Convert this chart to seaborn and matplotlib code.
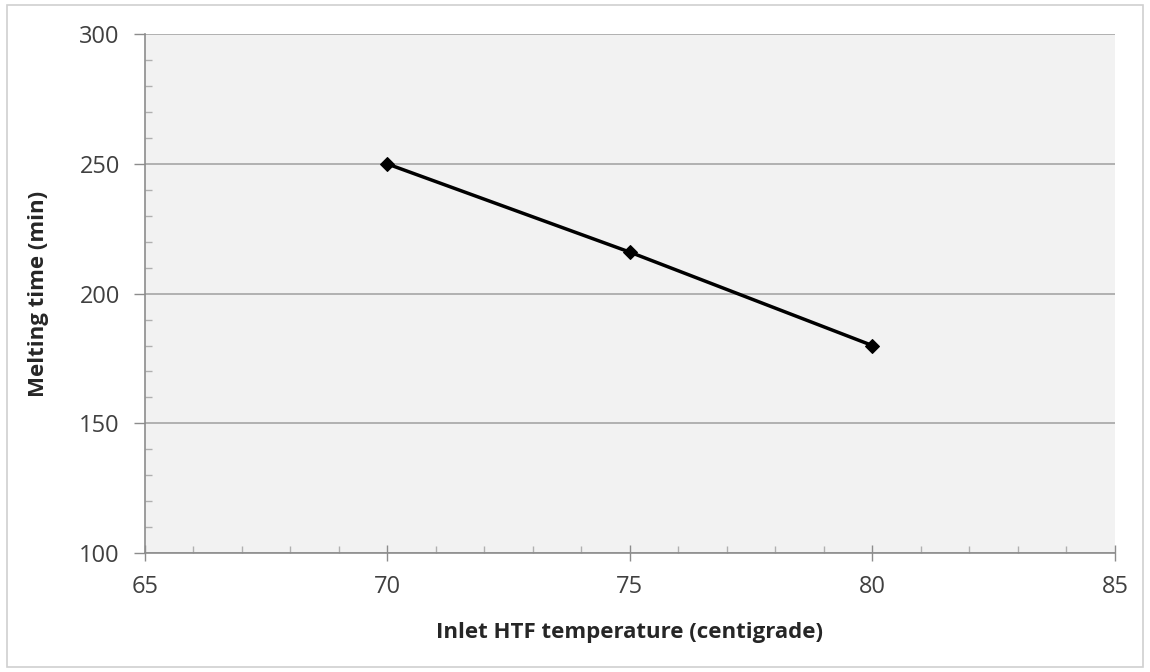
import pandas as pd
import numpy as np
import matplotlib.pyplot as plt
import seaborn as sns
from matplotlib.ticker import MultipleLocator
from matplotlib.patches import Rectangle

# dados
temperatura = [70, 75, 80]
tempo_fusao = [250, 216, 180]

df = pd.DataFrame({"temp": temperatura, "tempo": tempo_fusao})

sns.set_theme(style="white")
plt.rcParams['font.family'] = ['Open Sans', 'DejaVu Sans']

fig = plt.figure(figsize=(11.5, 6.72), dpi=100)
ax = fig.add_axes([0.126, 0.177, 0.8435, 0.772])
ax.set_facecolor("#f2f2f2")

sns.lineplot(data=df, x="temp", y="tempo", ax=ax, color="black", linewidth=2.5,
             marker="D", markersize=7, markeredgecolor="black")

ax.set_xlim(65, 85)
ax.set_ylim(100, 300)
ax.xaxis.set_major_locator(MultipleLocator(5))
ax.xaxis.set_minor_locator(MultipleLocator(1))
ax.yaxis.set_major_locator(MultipleLocator(50))
ax.yaxis.set_minor_locator(MultipleLocator(10))

# grade horizontal
ax.grid(axis="y", color="#a6a6a6", linewidth=1.2)
ax.set_axisbelow(True)

for s in ["top", "right"]:
    ax.spines[s].set_visible(False)
for s in ["left", "bottom"]:
    ax.spines[s].set_color("#8c8c8c")
    ax.spines[s].set_linewidth(1.2)

ax.tick_params(axis="x", which="major", direction="inout", length=12, width=1, color="#8c8c8c",
               labelsize=17, labelcolor="#404040", pad=10, bottom=True)
ax.tick_params(axis="x", which="minor", direction="in", length=5, color="#b0b0b0", bottom=True)
ax.tick_params(axis="y", which="major", direction="out", length=8, width=1, color="#8c8c8c",
               labelsize=17, labelcolor="#404040", pad=10, left=True)
ax.tick_params(axis="y", which="minor", direction="in", length=5, color="#b0b0b0", left=True)

ax.set_xlabel("Inlet HTF temperature (centigrade)", fontsize=16, fontweight="bold", color="#262626", labelpad=16)
ax.set_ylabel("Melting time (min)", fontsize=16, fontweight="bold", color="#262626", labelpad=22)

# moldura externa
fig.patches.append(Rectangle((0.006, 0.008), 0.988, 0.984, transform=fig.transFigure,
                             fill=False, edgecolor="#d0d0d0", linewidth=1.2))

plt.savefig("out.png", dpi=100)
